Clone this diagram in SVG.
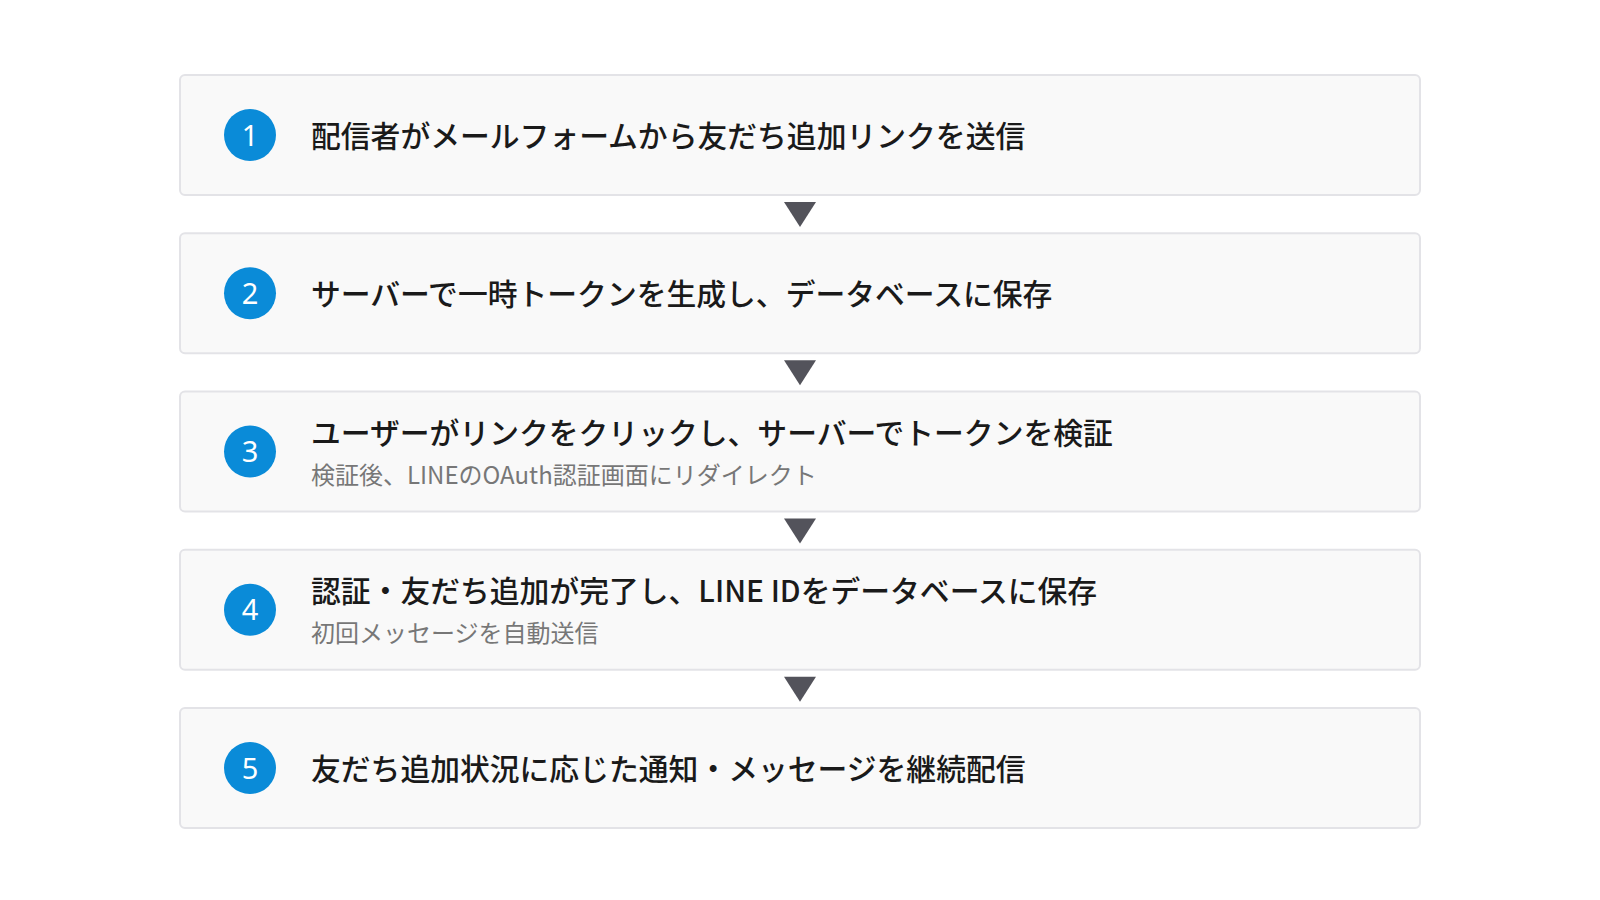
<svg xmlns="http://www.w3.org/2000/svg" width="1600" height="900" viewBox="0 0 1600 900">
<style>
.box{fill:#f9f9f9;stroke:#e3e3e7;stroke-width:2}
.num{fill:#0a8bd8}
.nt{font-family:"Noto Sans","Noto Sans CJK JP",sans-serif;font-size:29px;fill:#fff;text-anchor:middle}
.t{font-family:"Noto Sans CJK JP",sans-serif;font-size:29.8px;fill:#1a1a1a;font-weight:500}
.s{font-family:"Noto Sans CJK JP",sans-serif;font-size:24px;fill:#777}
.arr{fill:#53535b}
</style>
<rect width="1600" height="900" fill="#fff"/>
<g id="step1">
<rect class="box" x="180" y="75" width="1240" height="120" rx="5"/>
<circle class="num" cx="250" cy="135" r="26"/>
<text class="nt" x="250" y="145.5">1</text>
<text class="t" x="311" y="147">配信者がメールフォームから友だち追加リンクを送信</text>
</g>
<g id="step2">
<rect class="box" x="180" y="233.25" width="1240" height="120" rx="5"/>
<circle class="num" cx="250" cy="293.25" r="26"/>
<text class="nt" x="250" y="303.75">2</text>
<text class="t" x="311" y="305.25">サーバーで一時トークンを生成し、データベースに保存</text>
</g>
<g id="step3">
<rect class="box" x="180" y="391.5" width="1240" height="120" rx="5"/>
<circle class="num" cx="250" cy="451.5" r="26"/>
<text class="nt" x="250" y="462">3</text>
<text class="t" x="311" y="444">ユーザーがリンクをクリックし、サーバーでトークンを検証</text>
<text class="s" x="311" y="484">検証後、LINEのOAuth認証画面にリダイレクト</text>
</g>
<g id="step4">
<rect class="box" x="180" y="549.75" width="1240" height="120" rx="5"/>
<circle class="num" cx="250" cy="609.75" r="26"/>
<text class="nt" x="250" y="620.25">4</text>
<text class="t" x="311" y="602.25">認証・友だち追加が完了し、LINE IDをデータベースに保存</text>
<text class="s" x="311" y="642.25">初回メッセージを自動送信</text>
</g>
<g id="step5">
<rect class="box" x="180" y="708" width="1240" height="120" rx="5"/>
<circle class="num" cx="250" cy="768" r="26"/>
<text class="nt" x="250" y="778.5">5</text>
<text class="t" x="311" y="780">友だち追加状況に応じた通知・メッセージを継続配信</text>
</g>
<g id="connectors">
<polygon class="arr" points="784,202 816,202 800,227"/>
<polygon class="arr" points="784,360.25 816,360.25 800,385.25"/>
<polygon class="arr" points="784,518.5 816,518.5 800,543.5"/>
<polygon class="arr" points="784,676.75 816,676.75 800,701.75"/>
</g>
</svg>
